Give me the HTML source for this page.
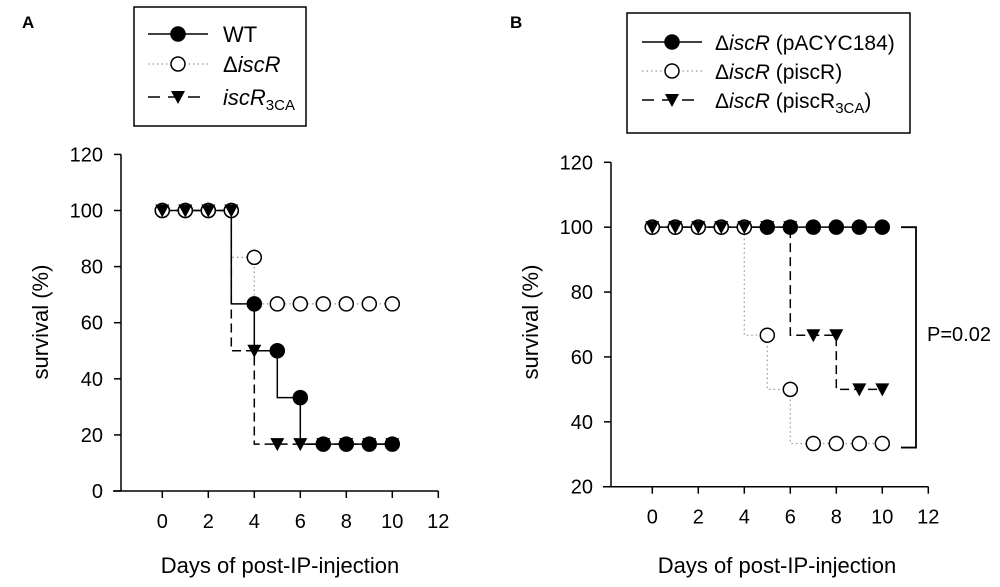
<!DOCTYPE html>
<html><head><meta charset="utf-8"><style>
html,body{margin:0;padding:0;background:#fff}
svg{display:block;font-family:"Liberation Sans",sans-serif}
</style></head><body>
<svg id="chart" width="1000" height="587" viewBox="0 0 1000 587">
<g id="root"></g>
</svg>
<script>
const days = [0,1,2,3,4,5,6,7,8,9,10];
const xTicks = [0,2,4,6,8,10,12];
const yTicksA = [0,20,40,60,80,100,120];
const yTicksB = [20,40,60,80,100,120];
const wtA = [100,100,100,100,66.7,50,33.3,16.7,16.7,16.7,16.7];
const iscrA = [100,100,100,100,83.3,66.7,66.7,66.7,66.7,66.7,66.7];
const cA3 = [100,100,100,100,50,16.7,16.7,16.7,16.7,16.7,16.7];
const pacycB = [100,100,100,100,100,100,100,100,100,100,100];
const piscB = [100,100,100,100,100,66.7,50,33.3,33.3,33.3,33.3];
const pisc3B = [100,100,100,100,100,100,100,66.7,66.7,50,50];
const pLabel = "P=0.02";

const NS="http://www.w3.org/2000/svg";
const root=document.getElementById('root');
function mk(tag,attrs,parent){const e=document.createElementNS(NS,tag);for(const k in attrs)e.setAttribute(k,attrs[k]);(parent||root).appendChild(e);return e;}

function panel(cfg){
  const g=mk('g',{});
  
  
  const X=d=>cfg.x0+(d-0)*cfg.dx;
  const Y=v=>cfg.yBot-(v-cfg.ymin)*cfg.py;
  const ya=mk('line',{x1:cfg.ax,y1:Y(cfg.ymax),x2:cfg.ax,y2:Y(cfg.ymin),stroke:'#000','stroke-width':1.5},g);
  
  
  const xa=mk('line',{x1:cfg.ax-8,y1:cfg.xAxisY,x2:X(12),y2:cfg.xAxisY,stroke:'#000','stroke-width':1.5},g);
  
  
  cfg.yTicks.forEach(v=>{
    mk('line',{x1:cfg.ax-7,y1:Y(v),x2:cfg.ax,y2:Y(v),stroke:'#000','stroke-width':1.5},g);
    const t=mk('text',{x:cfg.ax-18,y:Y(v)+7,'text-anchor':'end','font-size':20},g);
    t.textContent=v;
    
    
  });
  xTicks.forEach(v=>{
    mk('line',{x1:X(v),y1:cfg.xAxisY,x2:X(v),y2:cfg.xAxisY+7,stroke:'#000','stroke-width':1.5},g);
    const t=mk('text',{x:X(v),y:cfg.xAxisY+37,'text-anchor':'middle','font-size':20},g);
    t.textContent=v;
    
    
  });
  const xt=mk('text',{x:cfg.xTitleX,y:573,'text-anchor':'middle','font-size':22},g);
  xt.textContent='Days of post-IP-injection';
  
  
  const yt=mk('text',{x:0,y:0,'text-anchor':'middle','font-size':22,transform:`translate(${cfg.yTitleX},${cfg.yTitleY}) rotate(-90)`},g);
  yt.textContent='survival (%)';
  
  
  cfg.series.forEach(s=>{
    let d=`M${X(days[0])},${Y(s.vals[0])}`;
    for(let i=0;i<days.length-1;i++){d+=` L${X(days[i])},${Y(s.vals[i+1])} L${X(days[i+1])},${Y(s.vals[i+1])}`;}
    const p=mk('path',{d:d,fill:'none',stroke:s.color,'stroke-width':s.w,'stroke-dasharray':s.dash},g);
    
    
  });
  cfg.series.slice().reverse().forEach(s=>{
    days.forEach((dd,i)=>{
      const cx=X(dd),cy=Y(s.vals[i]);
      let m;
      if(s.marker==='tri') m=mk('path',{d:`M${cx-7},${cy-6} L${cx+7},${cy-6} L${cx},${cy+7} Z`,fill:'#000'},g);
      else m=mk('circle',{cx:cx,cy:cy,r:7,fill:s.marker==='open'?'#fff':'#000',stroke:'#000','stroke-width':1.5},g);
      
      
    });
  });
  return {g,X,Y};
}

function legend(x,y,w,h,rows,sx,tx,name){
  const g=mk('g',{});
  
  
  mk('rect',{x:x,y:y,width:w,height:h,fill:'#fff',stroke:'#000','stroke-width':1.5},g);
  rows.forEach(r=>{
    const e=mk('g',{},g);
    
    
    mk('line',{x1:sx,y1:r.y,x2:sx+60,y2:r.y,stroke:r.color,'stroke-width':r.w,'stroke-dasharray':r.dash},e);
    const cx=sx+30;
    if(r.marker==='tri') mk('path',{d:`M${cx-7},${r.y-6} L${cx+7},${r.y-6} L${cx},${r.y+7} Z`,fill:'#000'},e);
    else mk('circle',{cx:cx,cy:r.y,r:7,fill:r.marker==='open'?'#fff':'#000',stroke:'#000','stroke-width':1.5},e);
    const t=mk('text',{x:tx,y:r.y+8,'font-size':r.fs||22},e);
    t.innerHTML=r.html;
  });
}

const tA=mk('text',{x:22,y:28,'font-size':17,'font-weight':'bold'});
tA.textContent='A';


const tB=mk('text',{x:510,y:28,'font-size':17,'font-weight':'bold'});
tB.textContent='B';



panel({name:'panel-a',x0:162.3,dx:23,ax:121,yBot:491,py:56.1/20,ymin:0,ymax:120,xAxisY:491,yTicks:yTicksA,xTitleX:280,yTitleX:48,yTitleY:322,
 series:[
  {name:'wt',vals:wtA,color:'#000',w:1.5,dash:'none',marker:'filled'},
  {name:'delta-iscr',vals:iscrA,color:'#999',w:1.2,dash:'1.5,3',marker:'open'},
  {name:'iscr-3ca',vals:cA3,color:'#000',w:1.5,dash:'9,5',marker:'tri'}
 ].reverse()});

const pb=panel({name:'panel-b',x0:652.3,dx:23,ax:611,yBot:486.7,py:3.244,ymin:20,ymax:120,xAxisY:486.7,yTicks:yTicksB,xTitleX:777,yTitleX:538,yTitleY:322,
 series:[
  {name:'pacyc184',vals:pacycB,color:'#000',w:1.5,dash:'none',marker:'filled'},
  {name:'piscr',vals:piscB,color:'#999',w:1.2,dash:'1.5,3',marker:'open'},
  {name:'piscr-3ca',vals:pisc3B,color:'#000',w:1.5,dash:'9,5',marker:'tri'}
 ].reverse()});

const br=mk('path',{d:`M901,${pb.Y(pacycB[10])} L916,${pb.Y(pacycB[10])} L916,${pb.Y(piscB[10])+4} L901,${pb.Y(piscB[10])+4}`,fill:'none',stroke:'#000','stroke-width':1.8});


const pt=mk('text',{x:927,y:341,'font-size':20});
pt.textContent=pLabel;



legend(134,7,172,119,[
 {y:34,color:'#000',w:1.5,dash:'none',marker:'filled',html:'WT'},
 {y:64,color:'#999',w:1.2,dash:'1.5,3',marker:'open',html:'Δ<tspan font-style="italic">iscR</tspan>'},
 {y:97,color:'#000',w:1.5,dash:'12,8',marker:'tri',html:'<tspan font-style="italic">iscR</tspan><tspan font-size="15" dy="5">3CA</tspan>'}
],148,223,'legend-a');

legend(627,13,283,120,[
 {y:42,fs:21,color:'#000',w:1.5,dash:'none',marker:'filled',html:'Δ<tspan font-style="italic">iscR</tspan> (pACYC184)'},
 {y:71,fs:21,color:'#999',w:1.2,dash:'1.5,3',marker:'open',html:'Δ<tspan font-style="italic">iscR</tspan> (piscR)'},
 {y:100,fs:21,color:'#000',w:1.5,dash:'12,8',marker:'tri',html:'Δ<tspan font-style="italic">iscR</tspan> (piscR<tspan font-size="15" dy="5">3CA</tspan><tspan dy="-5">)</tspan>'}
],642,715,'legend-b');
</script>
</body></html>
